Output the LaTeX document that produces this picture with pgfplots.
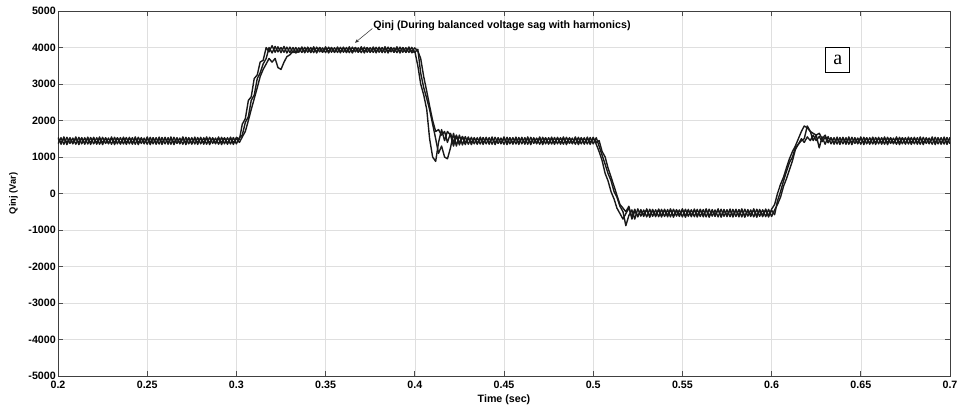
\documentclass[border=0pt]{standalone}
\usepackage{pgfplots}
\pgfplotsset{compat=1.18}
\usepackage{pgfplotstable}
\usetikzlibrary{arrows.meta}
\usepackage{fontspec}
\setmainfont{Liberation Sans}
\newfontfamily\boxserif{Liberation Serif}

% Injected reactive power of the three phases (Var), sampled every 1/600 s
\pgfplotstableread{
t a b c
0.2000 1540 1360 1510
0.2017 1350 1530 1390
0.2033 1550 1350 1500
0.2050 1340 1540 1400
0.2067 1530 1370 1510
0.2083 1360 1520 1380
0.2100 1550 1350 1500
0.2117 1340 1540 1400
0.2133 1530 1360 1520
0.2150 1350 1530 1380
0.2167 1545 1355 1505
0.2183 1345 1535 1395
0.2200 1540 1360 1510
0.2217 1350 1530 1390
0.2233 1550 1350 1500
0.2250 1340 1540 1400
0.2267 1530 1370 1510
0.2283 1360 1520 1380
0.2300 1550 1350 1500
0.2317 1340 1540 1400
0.2333 1530 1360 1520
0.2350 1350 1530 1380
0.2367 1545 1355 1505
0.2383 1345 1535 1395
0.2400 1540 1360 1510
0.2417 1350 1530 1390
0.2433 1550 1350 1500
0.2450 1340 1540 1400
0.2467 1530 1370 1510
0.2483 1360 1520 1380
0.2500 1550 1350 1500
0.2517 1340 1540 1400
0.2533 1530 1360 1520
0.2550 1350 1530 1380
0.2567 1545 1355 1505
0.2583 1345 1535 1395
0.2600 1540 1360 1510
0.2617 1350 1530 1390
0.2633 1550 1350 1500
0.2650 1340 1540 1400
0.2667 1530 1370 1510
0.2683 1360 1520 1380
0.2700 1550 1350 1500
0.2717 1340 1540 1400
0.2733 1530 1360 1520
0.2750 1350 1530 1380
0.2767 1545 1355 1505
0.2783 1345 1535 1395
0.2800 1540 1360 1510
0.2817 1350 1530 1390
0.2833 1550 1350 1500
0.2850 1340 1540 1400
0.2867 1530 1370 1510
0.2883 1360 1520 1380
0.2900 1550 1350 1500
0.2917 1340 1540 1400
0.2933 1530 1360 1520
0.2950 1350 1530 1380
0.2967 1545 1355 1505
0.2983 1345 1535 1395
0.3000 1540 1360 1510
0.3017 1480 1530 1400
0.3033 1900 1600 1550
0.3050 2050 1950 1700
0.3067 2550 2100 2000
0.3083 2650 2550 2300
0.3100 3150 2700 2600
0.3117 3250 3150 2900
0.3133 3600 3300 3200
0.3150 3650 3550 3400
0.3167 4000 3700 3550
0.3183 3880 4000 3700
0.3200 4050 3850 3600
0.3217 3870 4030 3700
0.3233 4020 3880 3450
0.3250 3860 4000 3400
0.3267 4030 3870 3600
0.3283 3850 4010 3750
0.3300 4010 3860 3800
0.3317 3860 4000 3900
0.3333 4000 3870 3850
0.3350 3870 3990 3900
0.3367 4015 3865 3985
0.3383 3855 4005 3885
0.3400 4010 3870 3990
0.3417 3860 4000 3880
0.3433 4020 3860 3980
0.3450 3850 4010 3890
0.3467 4000 3880 4000
0.3483 3870 3990 3870
0.3500 4020 3860 3980
0.3517 3850 4010 3890
0.3533 4000 3870 3995
0.3550 3865 3995 3875
0.3567 4015 3865 3985
0.3583 3855 4005 3885
0.3600 4010 3870 3990
0.3617 3860 4000 3880
0.3633 4020 3860 3980
0.3650 3850 4010 3890
0.3667 4000 3880 4000
0.3683 3870 3990 3870
0.3700 4020 3860 3980
0.3717 3850 4010 3890
0.3733 4000 3870 3995
0.3750 3865 3995 3875
0.3767 4015 3865 3985
0.3783 3855 4005 3885
0.3800 4010 3870 3990
0.3817 3860 4000 3880
0.3833 4020 3860 3980
0.3850 3850 4010 3890
0.3867 4000 3880 4000
0.3883 3870 3990 3870
0.3900 4020 3860 3980
0.3917 3850 4010 3890
0.3933 4000 3870 3995
0.3950 3865 3995 3875
0.3967 4015 3865 3985
0.3983 3855 4005 3885
0.4000 3900 3870 3990
0.4017 3500 3950 3900
0.4033 3000 3300 3700
0.4050 2700 2900 3200
0.4067 2300 2600 2800
0.4083 1500 2300 2400
0.4100 1000 1900 2000
0.4117 880 1500 1700
0.4133 1400 1100 1750
0.4150 1750 1300 1600
0.4167 1450 1000 1700
0.4183 1700 950 1400
0.4200 1600 1250 1650
0.4217 1300 1650 1400
0.4233 1580 1300 1600
0.4250 1330 1600 1380
0.4267 1560 1330 1560
0.4283 1340 1560 1400
0.4300 1550 1350 1500
0.4317 1340 1540 1400
0.4333 1530 1360 1520
0.4350 1350 1530 1380
0.4367 1545 1355 1505
0.4383 1345 1535 1395
0.4400 1540 1360 1510
0.4417 1350 1530 1390
0.4433 1550 1350 1500
0.4450 1340 1540 1400
0.4467 1530 1370 1510
0.4483 1360 1520 1380
0.4500 1550 1350 1500
0.4517 1340 1540 1400
0.4533 1530 1360 1520
0.4550 1350 1530 1380
0.4567 1545 1355 1505
0.4583 1345 1535 1395
0.4600 1540 1360 1510
0.4617 1350 1530 1390
0.4633 1550 1350 1500
0.4650 1340 1540 1400
0.4667 1530 1370 1510
0.4683 1360 1520 1380
0.4700 1550 1350 1500
0.4717 1340 1540 1400
0.4733 1530 1360 1520
0.4750 1350 1530 1380
0.4767 1545 1355 1505
0.4783 1345 1535 1395
0.4800 1540 1360 1510
0.4817 1350 1530 1390
0.4833 1550 1350 1500
0.4850 1340 1540 1400
0.4867 1530 1370 1510
0.4883 1360 1520 1380
0.4900 1550 1350 1500
0.4917 1340 1540 1400
0.4933 1530 1360 1520
0.4950 1350 1530 1380
0.4967 1545 1355 1505
0.4983 1345 1535 1395
0.5000 1540 1360 1510
0.5017 1350 1530 1400
0.5033 1150 1300 1450
0.5050 900 1050 1150
0.5067 550 800 1000
0.5083 350 550 700
0.5100 50 350 450
0.5117 -150 50 200
0.5133 -400 -100 -50
0.5150 -550 -350 -300
0.5167 -700 -500 -400
0.5183 -550 -880 -500
0.5200 -400 -600 -350
0.5217 -650 -450 -700
0.5233 -430 -700 -480
0.5250 -640 -420 -620
0.5267 -440 -620 -470
0.5283 -630 -450 -590
0.5300 -420 -640 -450
0.5317 -650 -430 -610
0.5333 -435 -625 -465
0.5350 -635 -445 -595
0.5367 -425 -635 -455
0.5383 -645 -435 -605
0.5400 -430 -630 -460
0.5417 -640 -440 -600
0.5433 -420 -640 -450
0.5450 -650 -430 -610
0.5467 -440 -620 -470
0.5483 -630 -450 -590
0.5500 -420 -640 -450
0.5517 -650 -430 -610
0.5533 -435 -625 -465
0.5550 -635 -445 -595
0.5567 -425 -635 -455
0.5583 -645 -435 -605
0.5600 -430 -630 -460
0.5617 -640 -440 -600
0.5633 -420 -640 -450
0.5650 -650 -430 -610
0.5667 -440 -620 -470
0.5683 -630 -450 -590
0.5700 -420 -640 -450
0.5717 -650 -430 -610
0.5733 -435 -625 -465
0.5750 -635 -445 -595
0.5767 -425 -635 -455
0.5783 -645 -435 -605
0.5800 -430 -630 -460
0.5817 -640 -440 -600
0.5833 -420 -640 -450
0.5850 -650 -430 -610
0.5867 -440 -620 -470
0.5883 -630 -450 -590
0.5900 -420 -640 -450
0.5917 -650 -430 -610
0.5933 -435 -625 -465
0.5950 -635 -445 -595
0.5967 -425 -635 -455
0.5983 -645 -435 -605
0.6000 -430 -630 -460
0.6017 -300 -450 -580
0.6033 0 -300 -200
0.6050 250 -100 50
0.6067 450 200 350
0.6083 700 400 600
0.6100 950 650 850
0.6117 1150 900 1000
0.6133 1300 1200 1250
0.6150 1500 1350 1350
0.6167 1700 1450 1500
0.6183 1850 1500 1400
0.6200 1800 1850 1550
0.6217 1700 1700 1450
0.6233 1650 1450 1600
0.6250 1600 1600 1450
0.6267 1650 1250 1560
0.6283 1500 1550 1420
0.6300 1600 1350 1540
0.6317 1400 1560 1390
0.6333 1530 1360 1520
0.6350 1350 1530 1380
0.6367 1545 1355 1505
0.6383 1345 1535 1395
0.6400 1540 1360 1510
0.6417 1350 1530 1390
0.6433 1550 1350 1500
0.6450 1340 1540 1400
0.6467 1530 1370 1510
0.6483 1360 1520 1380
0.6500 1550 1350 1500
0.6517 1340 1540 1400
0.6533 1530 1360 1520
0.6550 1350 1530 1380
0.6567 1545 1355 1505
0.6583 1345 1535 1395
0.6600 1540 1360 1510
0.6617 1350 1530 1390
0.6633 1550 1350 1500
0.6650 1340 1540 1400
0.6667 1530 1370 1510
0.6683 1360 1520 1380
0.6700 1550 1350 1500
0.6717 1340 1540 1400
0.6733 1530 1360 1520
0.6750 1350 1530 1380
0.6767 1545 1355 1505
0.6783 1345 1535 1395
0.6800 1540 1360 1510
0.6817 1350 1530 1390
0.6833 1550 1350 1500
0.6850 1340 1540 1400
0.6867 1530 1370 1510
0.6883 1360 1520 1380
0.6900 1550 1350 1500
0.6917 1340 1540 1400
0.6933 1530 1360 1520
0.6950 1350 1530 1380
0.6967 1545 1355 1505
0.6983 1345 1535 1395
0.7000 1540 1360 1510
}\qdata

\begin{document}
\begin{tikzpicture}
\useasboundingbox (-43.5pt,-24pt) rectangle (682.5pt,282pt);
\begin{axis}[
  scale only axis,
  width=669pt, height=273.75pt,
  xmin=0.2, xmax=0.7, ymin=-5000, ymax=5000,
  xtick={0.2,0.25,0.3,0.35,0.4,0.45,0.5,0.55,0.6,0.65,0.7},
  xticklabels={0.2,0.25,0.3,0.35,0.4,0.45,0.5,0.55,0.6,0.65,0.7},
  ytick={-5000,-4000,-3000,-2000,-1000,0,1000,2000,3000,4000,5000},
  yticklabels={-5000,-4000,-3000,-2000,-1000,0,1000,2000,3000,4000,5000},
  tick pos=both, tick align=inside,
  major tick length=4pt,
  tick style={black!70, line width=0.5pt},
  axis line style={black!75, line width=0.6pt},
  grid=major,
  major grid style={gray!25, line width=0.4pt},
  ticklabel style={font=\bfseries\fontsize{8}{9}\selectfont},
  yticklabel style={inner sep=1.5pt},
  xlabel={Time (sec)},
  ylabel={Qinj (Var)},
  xlabel style={font=\bfseries\fontsize{8}{9}\selectfont,
    at={(axis description cs:0.5,0)}, anchor=center, yshift=-18pt},
  ylabel style={font=\bfseries\fontsize{7}{8}\selectfont,
    at={(axis description cs:-0.05,0.5)}, anchor=center},
]
% three phase responses, all drawn as plain black traces
\addplot[black!90, line width=1.05pt, line join=round, no markers]
  table[x=t, y=a]{\qdata};
\addplot[black!90, line width=1.05pt, line join=round, no markers]
  table[x=t, y=b]{\qdata};
\addplot[black!90, line width=1.05pt, line join=round, no markers]
  table[x=t, y=c]{\qdata};

\node[anchor=west, inner sep=0pt, font=\bfseries\fontsize{8}{9}\selectfont]
  at (axis cs:0.3766,4600) {Qinj (During balanced voltage sag with harmonics)};
\draw[black!80, line width=0.4pt, -{Stealth[length=3pt,width=2.5pt]}]
  (axis cs:0.3762,4520) -- (axis cs:0.3665,4130);

\node[draw, fill=white, line width=0.6pt, inner sep=0pt,
  minimum width=18pt, minimum height=19pt,
  font=\boxserif\fontsize{15}{16}\selectfont]
  at (axis cs:0.6371,3660) {a};
\end{axis}
\end{tikzpicture}
\end{document}
